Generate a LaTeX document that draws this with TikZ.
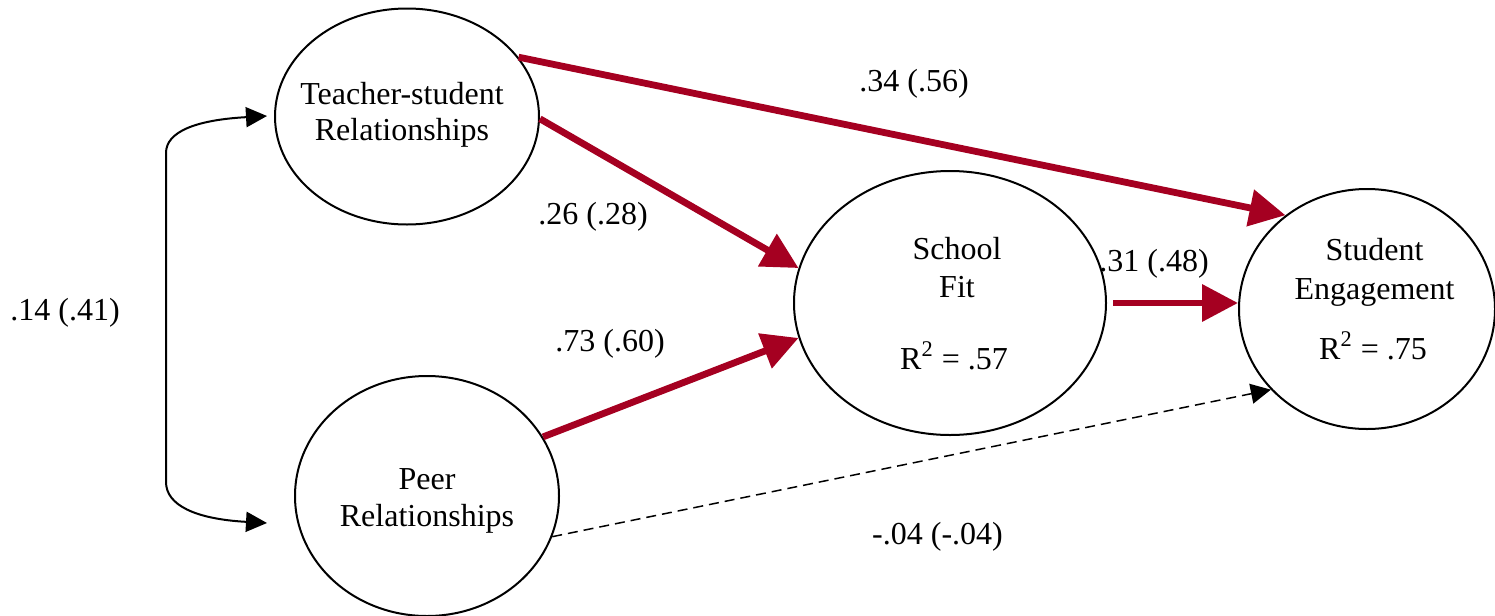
\documentclass[tikz,border=0pt]{standalone}
\usepackage{fontspec}
\setmainfont{Liberation Serif}
\usetikzlibrary{arrows.meta,shapes.geometric}
\definecolor{pathred}{RGB}{165,0,33}
\begin{document}
\begin{tikzpicture}[x=0.5pt,y=-0.5pt,
  font=\fontsize{16}{18.4}\selectfont,
  latent/.style={draw,ellipse,line width=1pt,inner sep=0pt},
  txt/.style={inner sep=0pt,anchor=base},
  sigpath/.style={draw=pathred,line width=3.4pt,
    -{Triangle[length=18pt,width=18pt]}},
  nspath/.style={draw=black,line width=0.75pt,dash pattern=on 5pt off 3pt,
    -{Triangle[length=10pt,width=10pt]}},
  covpath/.style={draw=black,line width=1pt,
    {Triangle[length=10.5pt,width=10pt]}-{Triangle[length=10.5pt,width=10pt]}}
]
\useasboundingbox (0,0) rectangle (1495,616);

% latent variables
\node[latent,minimum width=132pt,minimum height=108pt] (teach) at (407,116.5) {};
\node[latent,minimum width=132pt,minimum height=120pt] (peer)  at (427,496) {};
\node[latent,minimum width=156pt,minimum height=132pt] (fit)   at (950,303) {};
\node[latent,minimum width=128pt,minimum height=120pt] (eng)   at (1367,309) {};

% variable names
\node[txt] (teach1) at (402,104) {Teacher-student};
\node[txt] (teach2) at (402,140.7) {Relationships};
\node[txt] (peer1)  at (427,489) {Peer};
\node[txt] (peer2)  at (427,526.5) {Relationships};
\node[txt] (fit1)   at (957,259) {School};
\node[txt] (fit2)   at (957,297.4) {Fit};
\node[txt] (fitr)   at (954,369.4) {R\textsuperscript{2} = .57};
\node[txt] (eng1)   at (1374.5,260) {Student};
\node[txt] (eng2)   at (1374.5,299.4) {Engagement};
\node[txt] (engr)   at (1373,359.5) {R\textsuperscript{2} = .75};

% structural paths
\draw[sigpath] (teach.28) -- (eng.131);
\draw[sigpath] (teach.-1) -- (fit.167);
\draw[sigpath] (peer.27) -- (fit.193);
\draw[sigpath,shorten <=3pt] (fit.east) -- (fit.east -| eng.west);
\draw[nspath] (peer.-18) -- (eng.220);

% correlation between the two relationship factors
\coordinate (covT) at (267,116);
\coordinate (covP) at (267,523);
\draw[covpath] (covT) .. controls (195,120) and (166,132) .. (166,153)
  -- (166,482) .. controls (166,505) and (195,519) .. (covP);

% path coefficients
\node[txt] (c14) at (65,320) {.14 (.41)};
\node[txt] (c26) at (593,224.8) {.26 (.28)};
\node[txt] (c73) at (610,351.7) {.73 (.60)};
\node[txt] (c34) at (914,91) {.34 (.56)};
\node[txt] (c31) at (1154,271.7) {.31 (.48)};
\node[txt] (c04) at (937.5,544) {-.04 (-.04)};
\end{tikzpicture}
\end{document}
